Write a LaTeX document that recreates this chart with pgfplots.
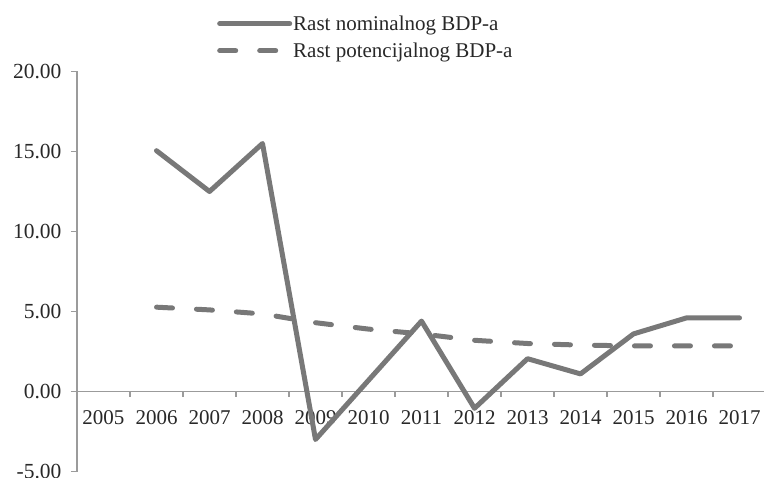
\documentclass[border=0pt]{standalone}
\usepackage{pgfplots}
\pgfplotsset{compat=1.18}
\usepackage{fontspec}
\setmainfont{Liberation Serif}
\definecolor{linegray}{RGB}{120,120,120}
\definecolor{axisgray}{RGB}{155,155,155}
\definecolor{textgray}{RGB}{40,40,40}

\begin{document}
\begin{tikzpicture}
\begin{axis}[
  scale only axis, width=689bp, height=400bp,
  xmin=-0.5, xmax=12.5, ymin=-5, ymax=20,
  axis x line=middle, axis y line=left,
  axis line style={axisgray, line width=1.5bp, -},
  xtick={0,...,12},
  xticklabels={2005,2006,2007,2008,2009,2010,2011,2012,2013,2014,2015,2016,2017},
  minor xtick={0.5,1.5,...,11.5},
  major x tick style={draw=none},
  minor x tick style={axisgray, line width=1.3bp},
  ytick={-5,0,5,10,15,20},
  yticklabels={-5.00,0.00,5.00,10.00,15.00,20.00},
  y tick style={axisgray, line width=1.3bp},
  tick align=outside,
  major tick length=6bp, minor tick length=5bp,
  x tick label style={font=\fontsize{21bp}{25bp}\selectfont, text=textgray, yshift=-10bp},
  y tick label style={font=\fontsize{21.5bp}{26bp}\selectfont, text=textgray, xshift=-6bp},
  legend style={draw=none, fill=none, at={(rel axis cs:0,1)}, anchor=north west,
    xshift=140bp, yshift=57bp, font=\fontsize{21bp}{25bp}\selectfont, text=textgray,
    row sep=9bp, inner sep=0pt, nodes={inner sep=1bp}},
  legend cell align=left,
  legend image code/.code={\draw[#1] (0bp,0bp) -- (70bp,0bp);},
]
% nominal GDP growth
\addplot[linegray, line width=5bp, line join=round, line cap=round] coordinates {
  (1,15.05) (2,12.5) (3,15.5) (4,-3.0) (5,0.7) (6,4.4)
  (7,-1.05) (8,2.05) (9,1.1) (10,3.6) (11,4.6) (12,4.6)};
\addlegendentry{Rast nominalnog BDP-a}
% potential GDP growth
\addplot[linegray, line width=5bp, line cap=round, dash pattern=on 16bp off 24bp] coordinates {
  (1,5.27) (2,5.1) (3,4.85) (4,4.3) (5,3.9) (6,3.6)
  (7,3.2) (8,3.0) (9,2.9) (10,2.85) (11,2.85) (12,2.85)};
\addlegendentry{Rast potencijalnog BDP-a}
\end{axis}
\pgfresetboundingbox
\useasboundingbox (-77bp,-6.5bp) rectangle (687bp,471.5bp);
\end{tikzpicture}
\end{document}
